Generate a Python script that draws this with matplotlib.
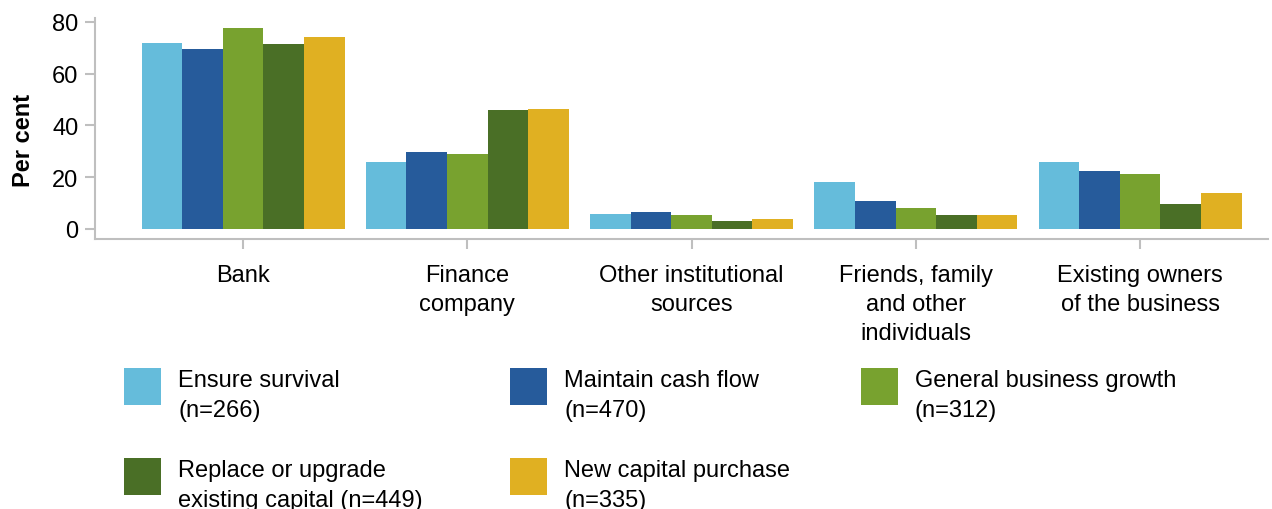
import matplotlib
matplotlib.use("Agg")
import matplotlib.pyplot as plt
from matplotlib.patches import Rectangle
import numpy as np

plt.rcParams['font.family'] = ['Liberation Sans', 'DejaVu Sans']

categories = ["Bank", "Finance\ncompany", "Other institutional\nsources",
              "Friends, family\nand other\nindividuals", "Existing owners\nof the business"]
series_names = ["Ensure survival\n(n=266)", "Maintain cash flow\n(n=470)",
                "General business growth\n(n=312)", "Replace or upgrade\nexisting capital (n=449)",
                "New capital purchase\n(n=335)"]
ensure_survival = [71.7, 26.0, 5.8, 18.2, 26.0]
maintain_cash_flow = [69.5, 29.8, 6.6, 10.9, 22.5]
general_growth = [77.8, 29.1, 5.4, 8.1, 21.3]
replace_upgrade = [71.3, 46.1, 3.1, 5.4, 9.7]
new_capital = [74.0, 46.5, 3.9, 5.4, 14.0]
series_values = [ensure_survival, maintain_cash_flow, general_growth, replace_upgrade, new_capital]
colors = ["#65BCDB", "#265B9B", "#78A22F", "#4A6F26", "#E0B022"]
yticks = [0, 20, 40, 60, 80]

FS = 17
W, H = 1272, 510
fig = plt.figure(figsize=(W / 100, H / 100), dpi=100)
ax = fig.add_axes([95 / W, 1 - 240 / H, (1268 - 95) / W, (240 - 19) / H])

x = np.arange(len(categories))
bw = 0.181
for i, (vals, c) in enumerate(zip(series_values, colors)):
    ax.bar(x + (i - 2) * bw, vals, width=bw, color=c, linewidth=0)

ax.set_xlim(-0.66, 4.57)
ax.set_ylim(-3.9, 81.5)
ax.set_yticks(yticks)
ax.set_xticks(x)
ax.set_xticklabels(categories, fontsize=FS, linespacing=1.42, va='top')
ax.tick_params(axis='y', labelsize=FS, length=7, width=1.5, color='#BFBFBF', pad=5)
ax.tick_params(axis='x', length=7, width=1.5, color='#BFBFBF', pad=11)
for s in ['top', 'right']:
    ax.spines[s].set_visible(False)
for s in ['left', 'bottom']:
    ax.spines[s].set_color('#BFBFBF')
    ax.spines[s].set_linewidth(1.5)
ax.set_ylabel("Per cent", fontsize=FS, fontweight='bold')
ax.yaxis.set_label_coords(-0.051, 0.452)

# legend, manually laid out
col_x = [124, 510, 861]
row_y = [369, 459]
positions = [(0, 0), (0, 1), (0, 2), (1, 0), (1, 1)]
for (r, cidx), name, c in zip(positions, series_names, colors):
    px, py = col_x[cidx], row_y[r]
    fig.patches.append(Rectangle((px / W, 1 - (py + 37) / H), 37 / W, 37 / H,
                                 transform=fig.transFigure, facecolor=c, edgecolor='none'))
    fig.text((px + 54) / W, 1 - (py + 1) / H, name, fontsize=FS, va='top', ha='left',
             linespacing=1.46)

fig.savefig("out.png", dpi=100)
